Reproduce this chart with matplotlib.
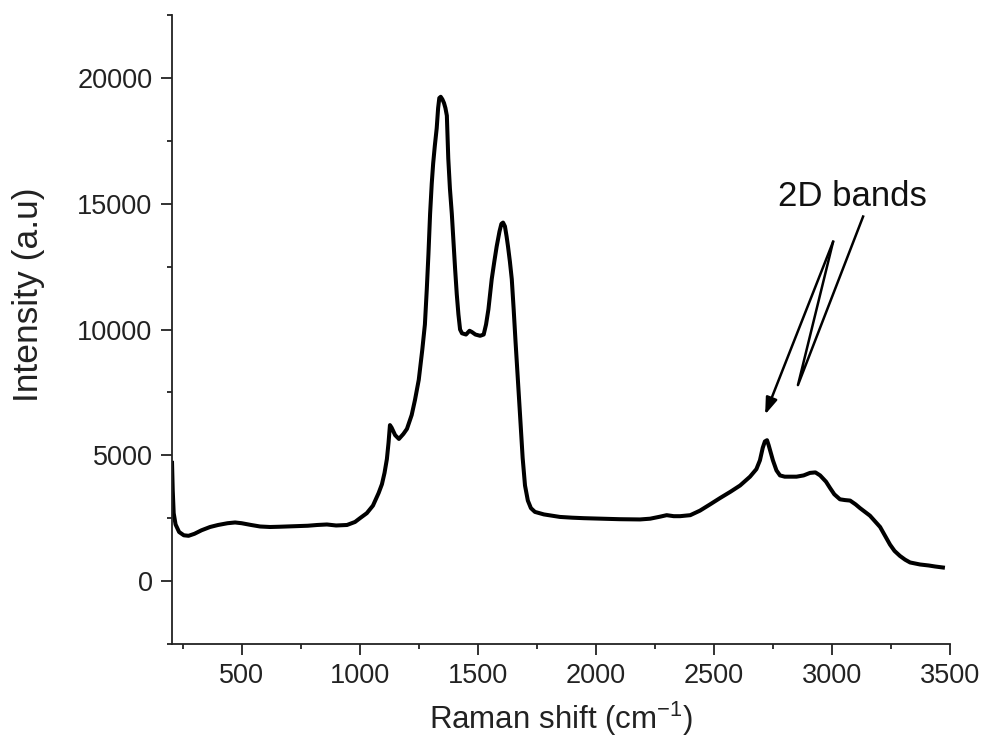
import matplotlib
matplotlib.use("Agg")
import matplotlib.pyplot as plt
from matplotlib.ticker import MultipleLocator

plt.rcParams['font.family'] = ['Liberation Sans', 'DejaVu Sans']
plt.rcParams['mathtext.default'] = 'regular'

raman_shift = [205, 208, 212, 220, 235, 255, 275, 300, 330, 366, 400, 440, 472, 500, 540, 578,
               620, 660, 718, 780, 820, 861, 900, 946, 980, 1001, 1030, 1056, 1080, 1094, 1105,
               1115, 1122, 1128, 1135, 1150, 1166, 1185, 1200, 1220, 1234, 1250, 1265, 1276,
               1284, 1291, 1298, 1305, 1311, 1318, 1326, 1332, 1337, 1343, 1350, 1357, 1363,
               1369, 1375, 1382, 1390, 1397, 1404, 1411, 1418, 1425, 1433, 1450, 1465, 1475,
               1490, 1510, 1525, 1535, 1545, 1552, 1559, 1570, 1580, 1592, 1600, 1607, 1615,
               1622, 1628, 1636, 1644, 1652, 1660, 1670, 1679, 1690, 1700, 1712, 1725, 1742,
               1780, 1848, 1900, 1950, 2018, 2100, 2187, 2230, 2272, 2300, 2330, 2357, 2400,
               2441, 2484, 2526, 2570, 2611, 2653, 2680, 2695, 2707, 2716, 2725, 2732, 2738,
               2750, 2765, 2780, 2800, 2822, 2850, 2880, 2907, 2930, 2950, 2975, 2992, 3010,
               3034, 3055, 3077, 3100, 3119, 3140, 3161, 3180, 3204, 3225, 3246, 3265, 3288,
               3310, 3331, 3373, 3410, 3437, 3470]
intensity = [4700, 3600, 2700, 2250, 1950, 1820, 1800, 1880, 2020, 2150, 2230, 2300, 2330, 2300,
             2230, 2170, 2150, 2160, 2180, 2200, 2230, 2250, 2210, 2230, 2350, 2500, 2700, 3000,
             3500, 3850, 4300, 4850, 5500, 6200, 6100, 5800, 5650, 5850, 6050, 6600, 7200, 8000,
             9200, 10200, 11600, 13000, 14600, 15800, 16600, 17300, 18000, 18800, 19200, 19250,
             19150, 19000, 18800, 18500, 16800, 15600, 14600, 13500, 12400, 11400, 10600, 10000,
             9850, 9800, 9950, 9900, 9800, 9750, 9800, 10200, 10800, 11400, 12000, 12700, 13300,
             13900, 14200, 14250, 14100, 13700, 13300, 12700, 12000, 10800, 9500, 8000, 6600,
             4900, 3800, 3200, 2900, 2750, 2650, 2550, 2520, 2500, 2480, 2460, 2450, 2480, 2560,
             2620, 2580, 2580, 2620, 2800, 3050, 3300, 3550, 3800, 4150, 4450, 4800, 5300, 5550,
             5600, 5400, 5200, 4800, 4400, 4200, 4150, 4150, 4150, 4200, 4300, 4320, 4200, 3950,
             3700, 3450, 3250, 3220, 3200, 3050, 2900, 2750, 2600, 2400, 2150, 1800, 1450, 1200,
             1000, 850, 740, 660, 620, 580, 540]

x_ticks = [500, 1000, 1500, 2000, 2500, 3000, 3500]
y_ticks = [0, 5000, 10000, 15000, 20000]

# annotation geometry (data coords)
label_text = "2D bands"
label_pos = (3085, 15280)
arrow_tip = (2717, 6620)
loop_top = (3005, 13490)
loop_bottom = (2856, 7790)
loop_end = (3132, 14490)

fig = plt.figure(figsize=(9.87, 7.51), dpi=100)
ax = fig.add_axes([0.1743, 0.1425, 0.7882, 0.8375])

ax.plot(raman_shift, intensity, color='black', lw=2.9, solid_joinstyle='round')

ax.set_xlim(205, 3500)
ax.set_ylim(-2500, 22500)
ax.set_xticks(x_ticks)
ax.set_yticks(y_ticks)
ax.xaxis.set_minor_locator(MultipleLocator(250))
ax.yaxis.set_minor_locator(MultipleLocator(2500))

for s in ['top', 'right']:
    ax.spines[s].set_visible(False)
for s in ['left', 'bottom']:
    ax.spines[s].set_linewidth(1.3)
    ax.spines[s].set_color('#222222')

ax.tick_params(which='major', direction='out', length=8, width=1.3, pad=6,
               labelsize=19.5, colors='#222222')
ax.tick_params(which='minor', direction='out', length=3.5, width=1.3, colors='#222222')

ax.set_xlabel('Raman shift (cm$^{-1}$)', fontsize=22.5, color='#222222')
ax.set_ylabel('Intensity (a.u)', fontsize=25.5, color='#222222')
ax.xaxis.set_label_coords(0.5, -0.088)
ax.yaxis.set_label_coords(-0.163, 0.555)

# annotation: arrow plus thin loop
ax.annotate('', xy=arrow_tip, xytext=loop_top,
            arrowprops=dict(arrowstyle='-|>,head_length=1.0,head_width=0.35',
                            color='black', lw=1.8, shrinkA=0, shrinkB=0))
ax.plot([loop_top[0], loop_bottom[0], loop_end[0]],
        [loop_top[1], loop_bottom[1], loop_end[1]], color='black', lw=1.8,
        solid_joinstyle='round')
ax.text(label_pos[0], label_pos[1], label_text, fontsize=25, ha='center', va='center',
        color='#111111')

fig.savefig('out.png', dpi=100)
